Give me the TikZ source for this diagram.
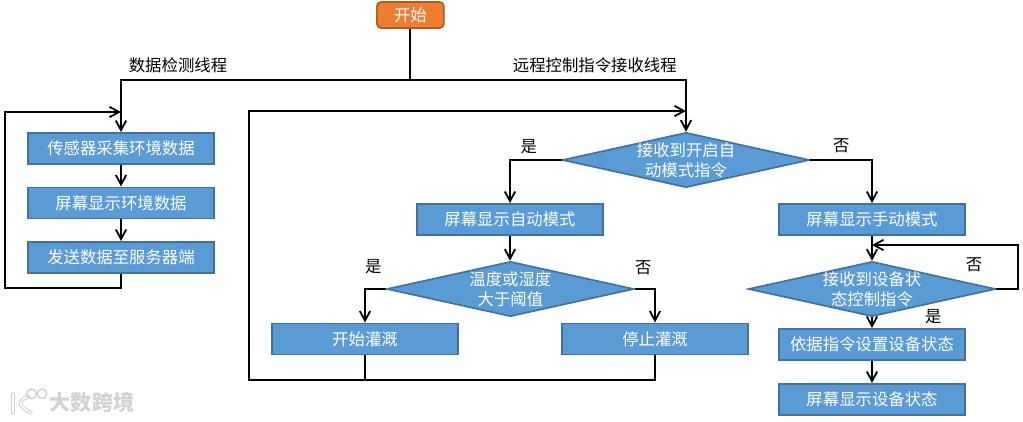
\documentclass[tikz,border=0pt]{standalone}
\usepackage{fontspec}
\usepackage{xcolor}
\usepackage{tikz}
\usetikzlibrary{shapes.geometric, arrows.meta}
\newfontfamily\cjk{Noto Sans CJK SC}
\definecolor{csblue}{HTML}{5B9BD5}
\definecolor{csblueline}{HTML}{41719C}
\definecolor{csorange}{HTML}{ED7D31}
\definecolor{csorangeline}{HTML}{AE5A21}
\definecolor{csmark}{HTML}{D2D2D2}

\begin{document}
\begin{tikzpicture}[
    every node/.style={font=\cjk\fontsize{11.65}{14.2}\selectfont},
    box/.style={rectangle, draw=csblueline, line width=1.4pt, fill=csblue, text=white, minimum width=4.65cm, minimum height=7.75mm, inner sep=0pt},
    terminal/.style={rectangle, rounded corners=3pt, draw=csorangeline, line width=1.2pt, fill=csorange, text=white, minimum width=16.75mm, minimum height=6.5mm, inner sep=0pt},
    decision/.style={diamond, aspect=4.5, draw=csblueline, line width=1.2pt, fill=csblue, minimum width=6.175cm, minimum height=13.75mm, inner sep=0pt},
    dtext/.style={text=white, align=center, inner sep=0pt},
    tag/.style={inner sep=0pt},
    link/.style={line width=1.4pt, color=black},
    arrow/.style={-{Straight Barb[length=2.4mm, width=2.6mm, line width=1.3pt]}, line width=1.4pt, color=black}
]
\useasboundingbox (0,0) rectangle (25.575,10.525);

% Start and threads
\node[terminal] (begin) at (10.26,10.15) {开始};
\coordinate (split) at (10.26,8.525);
\node[tag] (datathread) at (4.45,8.9) {数据检测线程};
\node[tag] (cmdthread) at (14.87,8.9) {远程控制指令接收线程};

% Data thread
\node[box] (sense) at (3.025,6.8125) {传感器采集环境数据};
\node[box] (display) at (3.025,5.45) {屏幕显示环境数据};
\node[box] (send) at (3.025,4.0875) {发送数据至服务器端};
\coordinate (sendback) at (0.125,3.325);
\coordinate (senseloop) at (3.025,7.725);

% Command thread
\node[decision, label={[dtext, yshift=-0.5pt]center:接收到开启自\\动模式指令}] (recv) at (17.15,6.525) {};
\node[box] (auto) at (12.75,5.0375) {屏幕显示自动模式};
\node[box] (manual) at (21.8,5.0375) {屏幕显示手动模式};
\node[decision, label={[dtext, yshift=-0.5pt]center:温度或湿度\\大于阈值}] (check) at (12.76,3.3) {};
\node[box] (irrigate) at (9.125,2.05) {开始灌溉};
\node[box] (stop) at (16.375,2.05) {停止灌溉};
\node[decision, label={[dtext, yshift=-0.5pt]center:接收到设备状\\态控制指令}] (device) at (21.8,3.3) {};
\node[box] (apply) at (21.8,1.9125) {依据指令设置设备状态};
\node[box] (status) at (21.8,0.5375) {屏幕显示设备状态};
\coordinate (autoback) at (6.225,1.025);
\coordinate (recvloop) at (17.15,7.75);
\coordinate (devicecorner) at (25.45,4.4);
\coordinate (devicein) at (21.8,4.4);

% Branch labels
\node[tag] (yesa) at (13.22,6.87) {是};
\node[tag] (noa) at (21.03,6.87) {否};
\node[tag] (yesb) at (9.33,3.87) {是};
\node[tag] (nob) at (16.08,3.82) {否};
\node[tag] (noc) at (24.35,3.9) {否};
\node[tag] (yesc) at (23.33,2.62) {是};

% Connectors
\draw[link] (begin) -- (split);
\draw[arrow] (split) -| (sense.north);
\draw[arrow] (split) -| (recv.north);
\draw[arrow] (sense) -- (display);
\draw[arrow] (display) -- (send);
\draw[arrow] (send.south) |- (sendback) |- (senseloop);
\draw[arrow] (recv.west) -| (auto.north);
\draw[arrow] (recv.east) -| (manual.north);
\draw[arrow] (auto) -- (auto |- check.north);
\draw[arrow] (check.west) -| (irrigate.north);
\draw[arrow] (check.east) -| (stop.north);
\draw[arrow] (manual) -- (device);
\draw[arrow] (device.east) -| (devicecorner) -- (devicein);
\draw[arrow] (device) -- (apply);
\draw[arrow] (apply) -- (status);
\draw[link] (stop.south) |- (autoback);
\draw[arrow] (irrigate.south) |- (autoback) |- (recvloop);

% Watermark
\node[tag, text=csmark, font=\cjk\bfseries\fontsize{15}{16}\selectfont] (mark) at (2.3,0.47) {大数跨境};
\draw[csmark, line width=2.6pt, line cap=round] (0.325,0.68) -- (0.325,0.2);
\draw[csmark, line width=2.6pt, line cap=round] (0.72,0.62) .. controls (0.45,0.5) and (0.42,0.4) .. (0.78,0.2);
\draw[white, line width=1pt, line cap=round] (0.325,0.68) -- (0.325,0.2);
\draw[white, line width=1pt, line cap=round] (0.72,0.62) .. controls (0.45,0.5) and (0.42,0.4) .. (0.78,0.2);
\draw[csmark, line width=1.1pt] (0.79,0.68) circle (0.12) (1.05,0.68) circle (0.12);
\end{tikzpicture}
\end{document}
